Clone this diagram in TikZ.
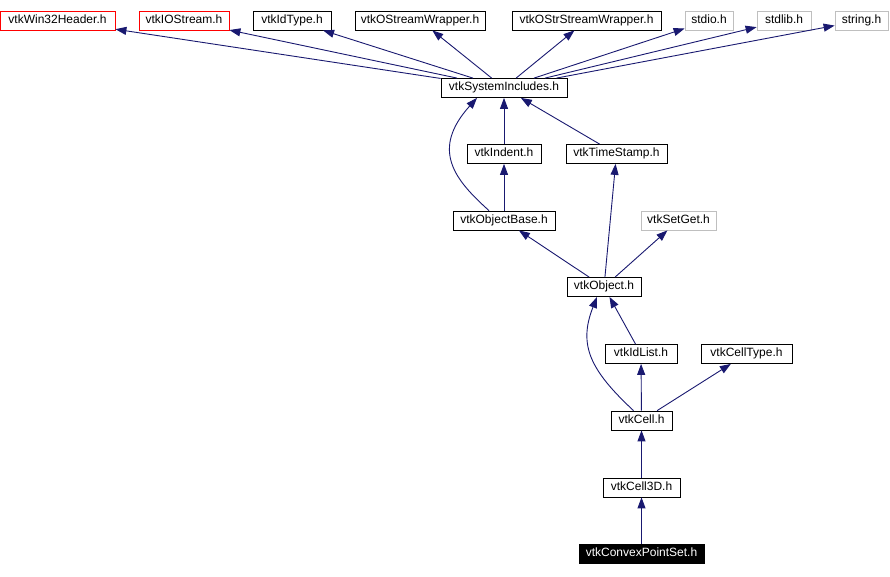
\documentclass[tikz,border=0pt]{standalone}
\usepackage{fontspec}
\setmainfont{Liberation Sans}
\usetikzlibrary{arrows.meta}
\definecolor{edgeblue}{HTML}{191970}
\definecolor{boxgray}{HTML}{BFBFBF}

\begin{document}
\begin{tikzpicture}[x=1pt, y=-1pt,
    hdr/.style={draw=black, line width=0.8pt, minimum height=19pt, inner sep=0pt,
                text height=8.6pt, text depth=3pt,
                font=\fontsize{12}{13}\selectfont},
    redhdr/.style={hdr, draw=red},
    sysh/.style={hdr, draw=boxgray},
    mainh/.style={hdr, fill=black, text=white},
    dep/.style={draw=edgeblue, line width=0.9pt,
                -{Triangle[length=11pt,width=8pt]}}]
    \useasboundingbox (0,0) rectangle (890,576);
    % top row
    \node [redhdr, minimum width=115pt] (win) at (57.5,20.5) {vtkWin32Header.h};
    \node [redhdr, minimum width=90pt] (io) at (184,20.5) {vtkIOStream.h};
    \node [hdr, minimum width=78pt] (idtype) at (292,20.5) {vtkIdType.h};
    \node [hdr, minimum width=130pt] (osw) at (420,20.5) {vtkOStreamWrapper.h};
    \node [hdr, minimum width=149pt] (osstr) at (586.5,20.5) {vtkOStrStreamWrapper.h};
    \node [sysh, minimum width=48pt] (stdio) at (709,20.5) {stdio.h};
    \node [sysh, minimum width=54pt] (stdlib) at (784,20.5) {stdlib.h};
    \node [sysh, minimum width=53pt] (string) at (861.5,20.5) {string.h};
    % middle
    \node [hdr, minimum width=126pt] (sysinc) at (504,88) {vtkSystemIncludes.h};
    \node [hdr, minimum width=74pt] (indent) at (504,154) {vtkIndent.h};
    \node [hdr, minimum width=101pt] (tstamp) at (616.5,154) {vtkTimeStamp.h};
    \node [hdr, minimum width=102pt] (objbase) at (504,220.5) {vtkObjectBase.h};
    \node [sysh, minimum width=75pt] (setget) at (678.5,220.5) {vtkSetGet.h};
    \node [hdr, minimum width=74pt] (object) at (604,287) {vtkObject.h};
    % bottom
    \node [hdr, minimum width=72pt] (idlist) at (641,354) {vtkIdList.h};
    \node [hdr, minimum width=91pt] (celltype) at (746.5,354) {vtkCellType.h};
    \node [hdr, minimum width=61pt] (cell) at (641.5,420.5) {vtkCell.h};
    \node [hdr, minimum width=77pt] (cell3d) at (641.5,487.5) {vtkCell3D.h};
    \node [mainh, minimum width=125pt] (convex) at (641.5,554) {vtkConvexPointSet.h};

    \draw[dep] (sysinc) -- (win);
    \draw[dep] (sysinc) -- (io);
    \draw[dep] (sysinc) -- (idtype);
    \draw[dep] (sysinc) -- (osw);
    \draw[dep] (sysinc) -- (osstr);
    \draw[dep] (sysinc) -- (stdio);
    \draw[dep] (sysinc) -- (stdlib);
    \draw[dep] (sysinc) -- (string);
    \draw[dep] (indent) -- (sysinc);
    \draw[dep] (tstamp) -- (sysinc);
    \draw[dep] ([xshift=-15pt]objbase.north) .. controls (455,180) and (430,150) .. ([xshift=-27pt]sysinc.south);
    \draw[dep] (objbase) -- (indent);
    \draw[dep] (object) -- (objbase);
    \draw[dep] (object) -- (tstamp);
    \draw[dep] (object) -- (setget);
    \draw[dep] (idlist) -- (object);
    \draw[dep] ([xshift=-8pt]cell.north) .. controls (590,370) and (578,345) .. ([xshift=-7pt]object.south);
    \draw[dep] (cell) -- (idlist);
    \draw[dep] (cell) -- (celltype);
    \draw[dep] (cell3d) -- (cell);
    \draw[dep] (convex) -- (cell3d);
\end{tikzpicture}
\end{document}
